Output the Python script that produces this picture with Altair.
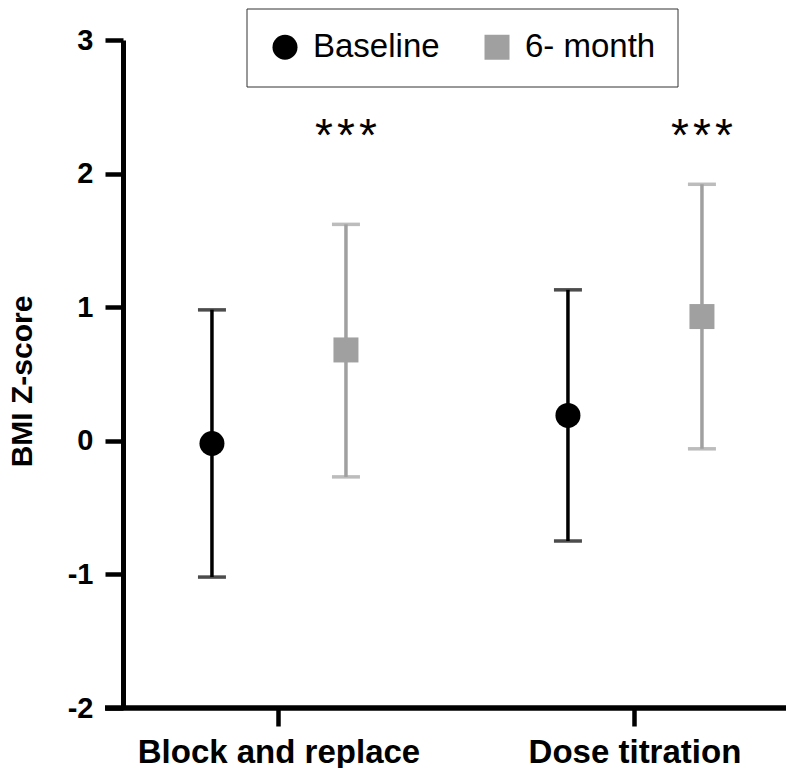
import altair as alt
import pandas as pd

groups = ["Block and replace", "Dose titration"]
series = ["Baseline", "6- month"]
colors = ["#000000", "#a0a0a0"]
shapes = ["circle", "square"]

mean_baseline = [-0.02, 0.19]
upper_baseline = [0.98, 1.13]
lower_baseline = [-1.02, -0.75]

mean_6m = [0.68, 0.93]
upper_6m = [1.62, 1.92]
lower_6m = [-0.27, -0.06]

sig_star = ["*", "*"]
sig_y = [2.17, 2.17]

y_ticks = [-2, -1, 0, 1, 2, 3]

rows = []
for i, g in enumerate(groups):
    rows.append({"group": g, "series": series[0], "mean": mean_baseline[i],
                 "lo": lower_baseline[i], "hi": upper_baseline[i]})
    rows.append({"group": g, "series": series[1], "mean": mean_6m[i],
                 "lo": lower_6m[i], "hi": upper_6m[i]})
df = pd.DataFrame(rows)
stars = pd.DataFrame({"group": groups, "series": [series[1]] * 2,
                      "label": sig_star, "y": sig_y})

FONT = "Liberation Sans"
W, H = 663, 668

x_enc = alt.X("group:N", sort=groups,
              scale=alt.Scale(domain=groups, paddingInner=0.5, paddingOuter=0.1812, align=0.519),
              axis=alt.Axis(title=None, labelAngle=0, domain=False, tickSize=18,
                            tickWidth=4.5, tickColor="black", labelFontSize=33,
                            labelFontWeight="bold", labelFont=FONT, labelColor="black",
                            labelPadding=10, labelLimit=0))
xo_enc = alt.XOffset("series:N", sort=series,
                     scale=alt.Scale(type="point", domain=series, range=[22, 156], padding=0))
y_scale = alt.Scale(domain=[-2, 3], nice=False, zero=False)
color_scale = alt.Scale(domain=series, range=colors)
color_enc = alt.Color("series:N", sort=series, scale=color_scale, legend=alt.Legend(title=None))

base = alt.Chart(df)

vlines = base.mark_rule(strokeWidth=3.5).encode(
    x=x_enc, xOffset=xo_enc,
    y=alt.Y("lo:Q", scale=y_scale,
            axis=alt.Axis(values=y_ticks, labelExpr="datum.value + ''", grid=False,
                          domainWidth=5, domainColor="black", tickSize=18, tickWidth=4.5,
                          tickColor="black", labelFontSize=29, labelFontWeight="bold",
                          labelFont=FONT, labelColor="black", labelPadding=12,
                          title="BMI Z-score", titleFont=FONT, titleFontSize=30,
                          titleFontWeight="bold", titleColor="black", titleAngle=-90,
                          titleBaseline="alphabetic", titleAlign="center",
                          titleX=-92, titleY=341, titleLimit=0)),
    y2="hi:Q",
    color=color_enc,
)

cap_hi = base.mark_tick(thickness=3.5, size=28, orient="horizontal").encode(
    x=x_enc, xOffset=xo_enc, y=alt.Y("hi:Q", scale=y_scale), color=color_enc)
cap_lo = base.mark_tick(thickness=3.5, size=28, orient="horizontal").encode(
    x=x_enc, xOffset=xo_enc, y=alt.Y("lo:Q", scale=y_scale), color=color_enc)

points = base.mark_point(filled=True, size=625, opacity=1, strokeWidth=0).encode(
    x=x_enc, xOffset=xo_enc, y=alt.Y("mean:Q", scale=y_scale),
    color=color_enc,
    shape=alt.Shape("series:N", sort=series, scale=alt.Scale(domain=series, range=shapes),
                    legend=alt.Legend(title=None)),
)

star_layers = [
    alt.Chart(stars).mark_text(fontSize=46, font=FONT, baseline="alphabetic",
                               align="center", color="black", dx=d).encode(
        x=x_enc, xOffset=xo_enc, y=alt.Y("y:Q", scale=y_scale), text="label:N")
    for d in (-22, 0, 22)
]

x_line = alt.Chart(pd.DataFrame({"k": [0]})).mark_rule(strokeWidth=5.5, color="black").encode(
    x=alt.value(-18), x2=alt.value(W), y=alt.value(H))

chart = alt.layer(vlines, cap_hi, cap_lo, points, *star_layers, x_line).properties(
    width=W, height=H,
    autosize=alt.AutoSizeParams(type="none"),
    padding={"left": 115, "top": 32, "right": 0, "bottom": 60},
).configure_view(stroke=None).configure_legend(
    orient="none", legendX=123.5, legendY=-31.5, direction="horizontal", columns=2,
    padding=22, strokeColor="#333333", fillColor="white",
    labelFont=FONT, labelFontSize=33, labelColor="black", labelLimit=0,
    symbolSize=625, symbolStrokeWidth=0, symbolOpacity=1, labelOffset=11.5,
    columnPadding=40,
)

chart.save("out.html", embed_options={"renderer": "svg", "actions": False})
